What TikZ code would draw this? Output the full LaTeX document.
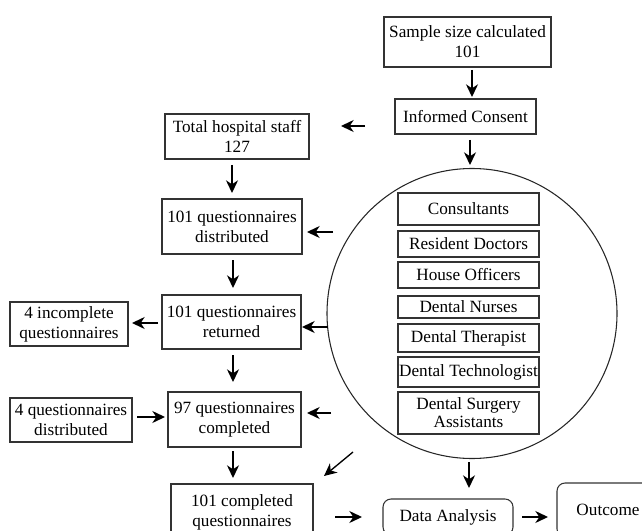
\documentclass[tikz,border=0pt]{standalone}
\usepackage{fontspec}
\setmainfont{Liberation Serif}
\usetikzlibrary{arrows.meta,calc}
\begin{document}
\begin{tikzpicture}[x=0.75pt,y=-0.75pt,
  box/.style={draw=black!80,line width=1pt,align=center,inner sep=0pt,
    font=\fontsize{12.9pt}{15pt}\selectfont},
  rbox/.style={box,rounded corners=6pt,line width=0.8pt},
  ibox/.style={box,minimum width=105.75pt},
  arr/.style={line width=1pt,-{Stealth[length=9.5pt,width=9pt,inset=3pt]}}]
\useasboundingbox (0,0) rectangle (642,531);
\clip (0,0) rectangle (642,531);
% main boxes
\node[box,minimum width=125.25pt,minimum height=37.5pt] (sample) at (467.5,42) {Sample size calculated\\101};
\node[box,minimum width=105.75pt,minimum height=26.25pt] (consent) at (465.5,116.5) {Informed Consent};
\node[box,minimum width=108pt,minimum height=33.75pt] (total) at (237,136.5) {Total hospital staff\\127};
\node[box,minimum width=105pt,minimum height=41.25pt] (dist) at (232,226.5) {101 questionnaires\\distributed};
\node[box,minimum width=104.25pt,minimum height=40.5pt] (ret) at (231.5,322) {101 questionnaires\\returned};
\node[box,minimum width=88.5pt,minimum height=33pt] (incomp) at (69,324) {4 incomplete\\questionnaires};
\node[box,minimum width=91.5pt,minimum height=33pt] (fourd) at (71,420) {4 questionnaires\\distributed};
\node[box,minimum width=99.75pt,minimum height=41.25pt] (comp) at (234.5,419.5) {97 questionnaires\\completed};
\node[box,minimum width=106.5pt,minimum height=42pt] (compq) at (242,512) {101 completed\\questionnaires};
\node[rbox,minimum width=97.5pt,minimum height=27pt] (data) at (448,517) {Data Analysis};
\node[rbox,minimum width=76.5pt,minimum height=40.5pt] (outcome) at (608,510) {Outcome};
% circle
\node[draw=black!85,line width=0.8pt,circle,minimum size=217.5pt,inner sep=0pt] (circ) at (472,313.5) {};
\node[ibox,minimum height=24pt] (cons) at (468.5,209) {Consultants};
\node[ibox,minimum height=19.5pt] (res) at (468.5,244) {Resident Doctors};
\node[ibox,minimum height=19.5pt] (house) at (468.5,275) {House Officers};
\node[ibox,minimum height=16.5pt] (nurse) at (468.5,307) {Dental Nurses};
\node[ibox,minimum height=21pt] (ther) at (468.5,338) {Dental Therapist};
\node[ibox,minimum height=22.5pt] (tech) at (468.5,372) {Dental Technologist};
\node[ibox,minimum height=31.5pt,font=\fontsize{12.9pt}{13.5pt}\selectfont] (dsa) at (468.5,413) {Dental Surgery\\Assistants};
% free arrow ends
\coordinate (a1s) at (472,70);   \coordinate (a1e) at (472,97);
\coordinate (a2s) at (470,140);  \coordinate (a2e) at (470,165);
\coordinate (a3s) at (365,126);  \coordinate (a3e) at (341,126);
\coordinate (a4s) at (232,165);  \coordinate (a4e) at (232,193);
\coordinate (a5s) at (333,232);  \coordinate (a5e) at (307,232);
\coordinate (a6s) at (233,260);  \coordinate (a6e) at (233,288);
\coordinate (a7s) at (158,323);  \coordinate (a7e) at (132,323);
\coordinate (a8s) at (328,327);  \coordinate (a8e) at (302,327);
\coordinate (a9s) at (233,355);  \coordinate (a9e) at (233,382);
\coordinate (a10s) at (137,417); \coordinate (a10e) at (165,417);
\coordinate (a11s) at (331,413); \coordinate (a11e) at (307,413);
\coordinate (a12s) at (233,451); \coordinate (a12e) at (233,478);
\coordinate (a13s) at (353,452); \coordinate (a13e) at (324,476);
\coordinate (a14s) at (335,517); \coordinate (a14e) at (362,517);
\coordinate (a15s) at (469,462); \coordinate (a15e) at (469,488);
\coordinate (a16s) at (522,517); \coordinate (a16e) at (548,517);
\foreach \i in {1,...,16} {\draw[arr] (a\i s) -- (a\i e);}
\end{tikzpicture}
\end{document}
